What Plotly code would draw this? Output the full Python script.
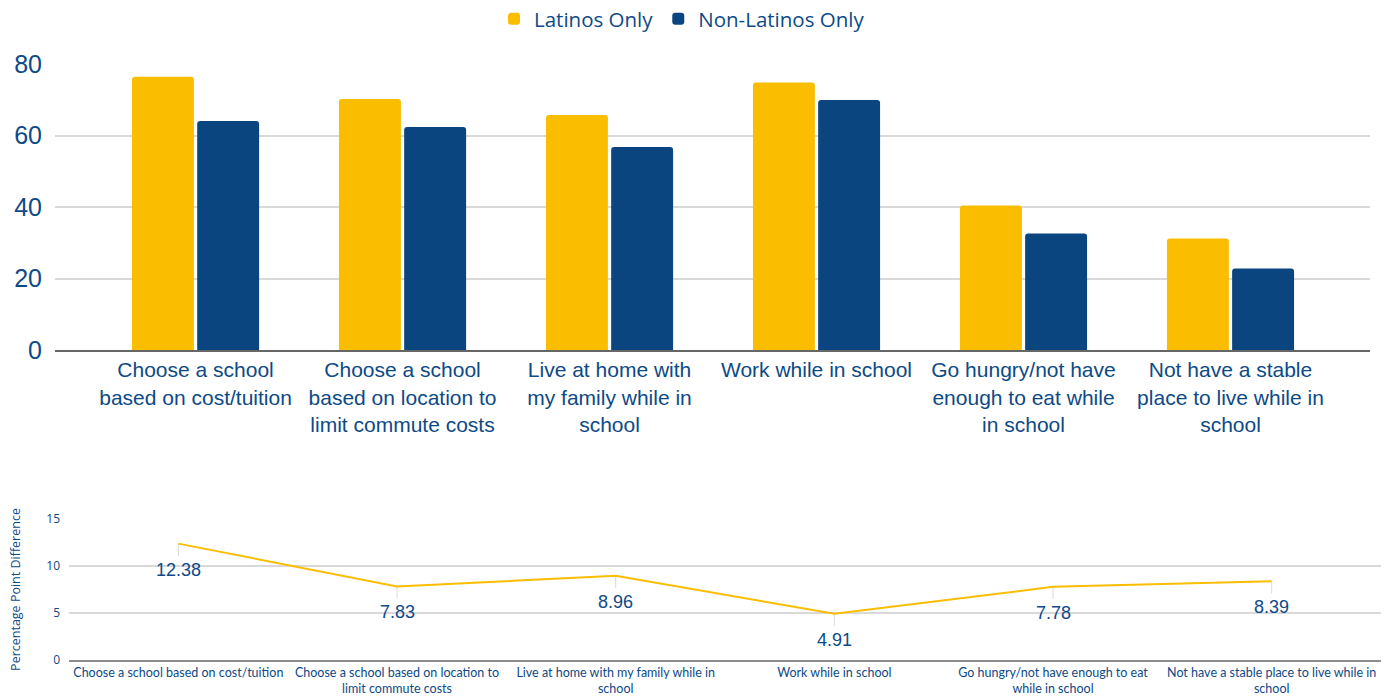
import plotly.graph_objects as go

# Survey share (%) reporting each cost-related behaviour
categories = [
    "Choose a school<br>based on cost/tuition",
    "Choose a school<br>based on location to<br>limit commute costs",
    "Live at home with<br>my family while in<br>school",
    "Work while in school",
    "Go hungry/not have<br>enough to eat while<br>in school",
    "Not have a stable<br>place to live while in<br>school",
]
diff_categories = [
    "Choose a school based on cost/tuition",
    "Choose a school based on location to<br>limit commute costs",
    "Live at home with my family while in<br>school",
    "Work while in school",
    "Go hungry/not have enough to eat<br>while in school",
    "Not have a stable place to live while in<br>school",
]
latinos = [76.44, 70.20, 65.74, 74.84, 40.40, 31.20]
non_latinos = [64.06, 62.37, 56.78, 69.93, 32.62, 22.81]
point_diff = [12.38, 7.83, 8.96, 4.91, 7.78, 8.39]

YELLOW = "#FBBD00"
BLUE = "#0B4580"
TEXT = "#0D4A86"
GRID = "#D9D9D9"

W, H = 1397, 698


def px_x(a, b):
    return [a / W, b / W]


def px_y(top, bottom):
    return [(H - bottom) / H, (H - top) / H]


fig = go.Figure()

fig.add_trace(go.Bar(
    x=list(range(len(categories))), y=latinos, name="Latinos Only",
    marker=dict(color=YELLOW, line=dict(width=0)),
    xaxis="x", yaxis="y", hoverinfo="y",
))
fig.add_trace(go.Bar(
    x=list(range(len(categories))), y=non_latinos, name="Non-Latinos Only",
    marker=dict(color=BLUE, line=dict(width=0)),
    xaxis="x", yaxis="y", hoverinfo="y",
))

# Percentage-point gap between the two groups
fig.add_trace(go.Scatter(
    x=list(range(len(diff_categories))), y=point_diff, mode="lines",
    line=dict(color=YELLOW, width=2), showlegend=False,
    error_y=dict(type="data", symmetric=False, array=[0] * len(point_diff),
                 arrayminus=[1.3] * len(point_diff), color=GRID,
                 thickness=1, width=0),
    xaxis="x2", yaxis="y2",
))

for i, v in enumerate(point_diff):
    fig.add_annotation(
        x=i, y=v, xref="x2", yref="y2", text=f"{v:.2f}", showarrow=False,
        yshift=-26, font=dict(family="Liberation Sans, Arial", size=18, color=TEXT),
    )

fig.update_layout(
    width=W, height=H,
    margin=dict(l=0, r=0, t=0, b=0, autoexpand=False),
    paper_bgcolor="white", plot_bgcolor="white",
    barmode="group", bargap=0.37, bargroupgap=0.05, barcornerradius=3,
    font=dict(family="Liberation Sans, Arial", color=TEXT),
    legend=dict(
        orientation="h", x=682 / W, xanchor="center", y=1 - 19 / H, yanchor="middle",
        font=dict(family="Open Sans", size=20.5, color=TEXT),
        itemclick=False, traceorder="normal",
    ),
    xaxis=dict(
        domain=px_x(55, 1370), range=[-0.679, 5.674],
        tickmode="array", tickvals=list(range(len(categories))), ticktext=categories,
        tickfont=dict(family="Liberation Sans, Arial", size=21, color=TEXT),
        showgrid=False, showline=True, linecolor="#666666", linewidth=2,
        ticks="", zeroline=False, anchor="y", fixedrange=True,
    ),
    yaxis=dict(
        domain=px_y(64, 350), range=[0, 80], dtick=20,
        tickfont=dict(family="Liberation Sans, Arial", size=25, color=TEXT),
        showgrid=True, gridcolor=GRID, gridwidth=1.5, zeroline=False,
        ticklabelstandoff=12, anchor="x", fixedrange=True,
    ),
    xaxis2=dict(
        domain=px_x(69, 1381), range=[-0.5, 5.5],
        tickmode="array", tickvals=list(range(len(diff_categories))), ticktext=diff_categories,
        tickfont=dict(family="Lato, Open Sans", size=12.5, color=TEXT),
        showgrid=False, showline=True, linecolor="#8C8C8C", linewidth=2,
        ticks="", zeroline=False, anchor="y2", fixedrange=True,
    ),
    yaxis2=dict(
        domain=px_y(519, 660), range=[0, 15], dtick=5,
        tickfont=dict(family="Open Sans", size=12, color=TEXT),
        title=dict(text="Percentage Point Difference",
                   font=dict(family="Open Sans", size=12.5, color=TEXT), standoff=22),
        showgrid=True, gridcolor=GRID, gridwidth=1.5, zeroline=False,
        ticklabelstandoff=8, anchor="x2", fixedrange=True,
    ),
)

fig.write_html("out.html")
